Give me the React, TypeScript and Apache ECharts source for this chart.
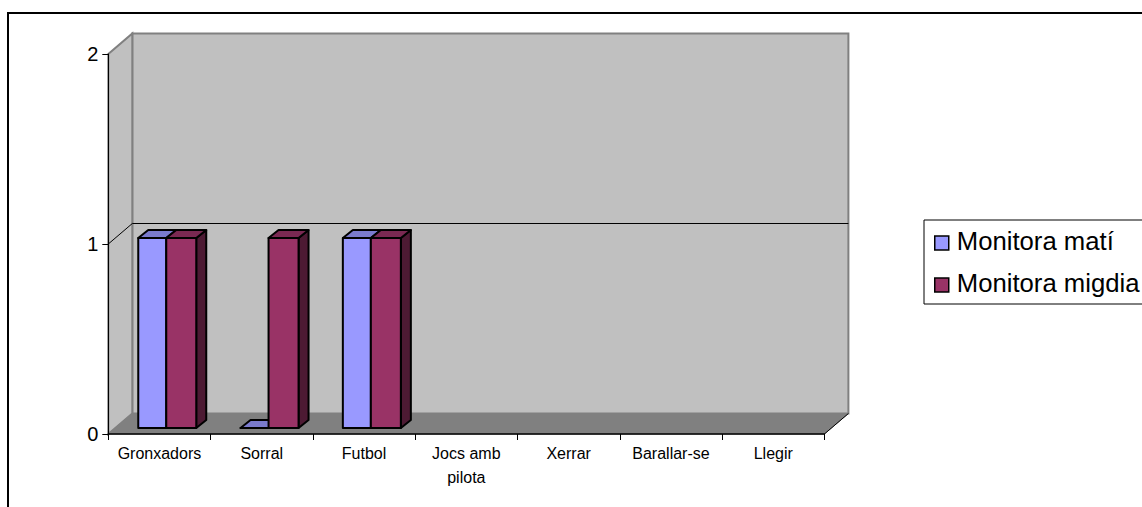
import React, { useEffect, useRef } from "react";
import * as echarts from "echarts";

const categories = ["Gronxadors", "Sorral", "Futbol", "Jocs amb\npilota", "Xerrar", "Barallar-se", "Llegir"];
const seriesNames = ["Monitora matí", "Monitora migdia"];
const matiValues: (number | null)[] = [1, 0, 1, null, null, null, null];
const migdiaValues: (number | null)[] = [1, 1, 1, null, null, null, null];
const yTicks = [0, 1, 2];

const GRID = { left: 108.3, top: 54, right: 1142 - 824.4, bottom: 507 - 434 };
const WALL = { dx: 24, dy: -20.5 };
const BAR = { offX: 6.8, offY: -6, depthX: 10, depthY: -8 };
const FONT = "'Liberation Sans', Arial, sans-serif";

function wallItem(params: any, api: any) {
  const cs = params.coordSys;
  const l = cs.x, r = cs.x + cs.width, t = cs.y, b = cs.y + cs.height;
  const { dx, dy } = WALL;
  const children: any[] = [
    { type: "polygon", shape: { points: [[l + dx, t + dy], [r + dx, t + dy], [r + dx, b + dy], [l + dx, b + dy]] }, style: { fill: "#C0C0C0", stroke: "#808080", lineWidth: 2 } },
    { type: "polygon", shape: { points: [[l, t], [l + dx, t + dy], [l + dx, b + dy], [l, b]] }, style: { fill: "#C0C0C0", stroke: "#808080", lineWidth: 2 } },
    { type: "polygon", shape: { points: [[l, b], [r, b], [r + dx, b + dy], [l + dx, b + dy]] }, style: { fill: "#808080", stroke: "#808080", lineWidth: 1 } },
    { type: "line", shape: { x1: r, y1: b, x2: r + dx, y2: b + dy }, style: { stroke: "#000", lineWidth: 1 } },
  ];
  yTicks.slice(1, -1).forEach((v) => {
    const y = api.coord([0, v])[1];
    children.push({ type: "polyline", shape: { points: [[l, y], [l + dx, y + dy], [r + dx, y + dy]] }, style: { fill: "none", stroke: "#000", lineWidth: 1 } });
  });
  return { type: "group", children };
}

function barItem(sideIndex: number, w: number, front: string, top: string, side: string) {
  return (_params: any, api: any) => {
    const v = api.value(1);
    if (v === null || v === undefined || isNaN(v)) return null;
    const { offX, offY, depthX: ddx, depthY: ddy } = BAR;
    const [cx, y1] = api.coord([api.value(0), v]);
    const [, y0] = api.coord([api.value(0), 0]);
    const x0 = cx + offX + (sideIndex === 0 ? -w : 0);
    const x1 = x0 + w;
    const yT = y1 + offY;
    const yB = y0 + offY;
    const stroke = { stroke: "#000", lineWidth: 2, lineJoin: "round" };
    return {
      type: "group",
      children: [
        { type: "polygon", shape: { points: [[x1, yT], [x1 + ddx, yT + ddy], [x1 + ddx, yB + ddy], [x1, yB]] }, style: { fill: side, ...stroke } },
        { type: "polygon", shape: { points: [[x0, yT], [x0 + ddx, yT + ddy], [x1 + ddx, yT + ddy], [x1, yT]] }, style: { fill: top, ...stroke } },
        { type: "rect", shape: { x: x0, y: yT, width: w, height: yB - yT }, style: { fill: front, ...stroke } },
      ],
    };
  };
}

export default function App() {
  const ref = useRef<HTMLDivElement>(null);
  useEffect(() => {
    document.body.style.margin = "0";
    const chart = echarts.init(ref.current!, undefined, { renderer: "svg" });
    chart.setOption({
      animation: false,
      backgroundColor: "#fff",
      textStyle: { fontFamily: FONT },
      grid: { ...GRID, containLabel: false },
      graphic: [
        { type: "polyline", shape: { points: [[8, 507], [8, 13], [1142, 13]] }, style: { fill: "none", stroke: "#000", lineWidth: 2 }, silent: true },
      ],
      legend: {
        orient: "vertical",
        left: 924,
        top: 220,
        padding: [7, 30, 7, 10],
        itemWidth: 14,
        itemHeight: 18,
        itemGap: 14,
        icon: "path://M0 0L0 0M0 4H14V18H0Z",
        selectedMode: false,
        borderColor: "#000",
        borderWidth: 1,
        backgroundColor: "#fff",
        data: seriesNames,
        itemStyle: { borderColor: "#000", borderWidth: 1.5 },
        textStyle: { fontFamily: FONT, fontSize: 25.7, color: "#000", lineHeight: 28, padding: [0, 0, 0, 3] },
      },
      xAxis: {
        type: "category",
        data: categories,
        axisLine: { show: true, lineStyle: { color: "#000", width: 1.5 } },
        axisTick: { show: true, length: 6, lineStyle: { color: "#000" } },
        axisLabel: { interval: 0, fontSize: 16, color: "#000", lineHeight: 24, margin: 7, fontFamily: FONT },
        splitLine: { show: false },
      },
      yAxis: {
        type: "value",
        min: 0,
        max: 2,
        interval: 1,
        axisLine: { show: true, lineStyle: { color: "#000", width: 1 } },
        axisTick: { show: true, length: 6, lineStyle: { color: "#000" } },
        axisLabel: { fontSize: 20, color: "#000", margin: 10, fontFamily: FONT },
        splitLine: { show: false },
      },
      series: [
        { type: "custom", name: "walls", z: -1, silent: true, renderItem: wallItem, data: [[0, 0]], encode: { x: 0, y: 1 } },
        {
          type: "custom", name: seriesNames[0], z: 2,
          itemStyle: { color: "#9999FF" },
          renderItem: barItem(0, 28, "#9999FF", "#7A7ACC", "#4D4D80"),
          data: matiValues.map((v, i) => [i, v]),
          encode: { x: 0, y: 1 },
        },
        {
          type: "custom", name: seriesNames[1], z: 3,
          itemStyle: { color: "#993366" },
          renderItem: barItem(1, 30, "#993366", "#7A2952", "#4D1A33"),
          data: migdiaValues.map((v, i) => [i, v]),
          encode: { x: 0, y: 1 },
        },
      ],
    });
    return () => chart.dispose();
  }, []);
  return <div ref={ref} style={{ width: 1142, height: 507 }} />;
}
